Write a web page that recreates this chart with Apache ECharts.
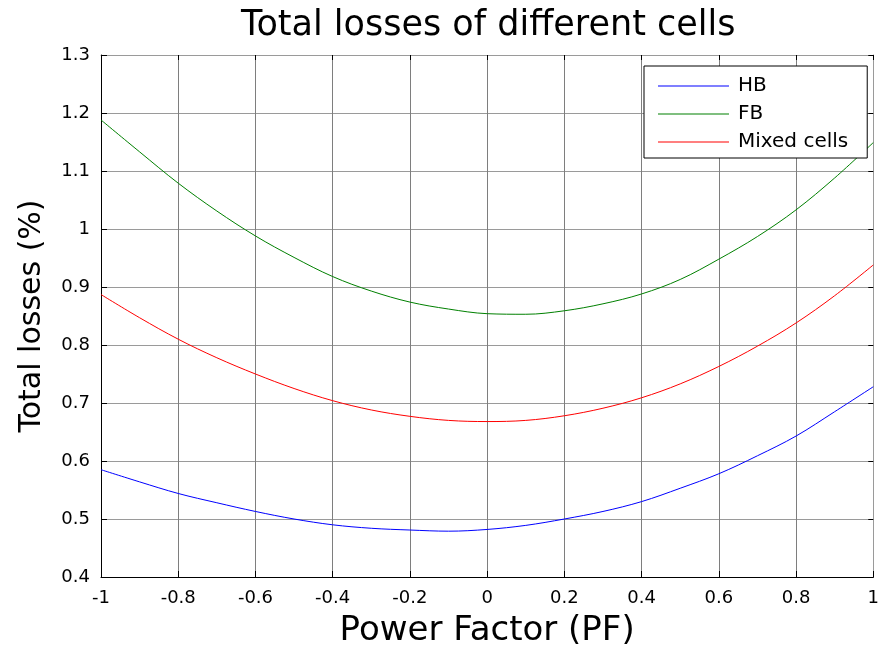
<!DOCTYPE html>
<html>
<head>
<meta charset="utf-8">
<script src="https://cdn.jsdelivr.net/npm/echarts@6/dist/echarts.min.js"></script>
<style>
  html, body { margin: 0; padding: 0; background: #fff; }
  #chart { width: 882px; height: 653px; }
</style>
</head>
<body>
<div id="chart"></div>
<script>
// Power factor sweep (x) and total losses (%) for each cell type
const powerFactor = [-1, -0.9, -0.8, -0.7, -0.6, -0.5, -0.4, -0.3, -0.2, -0.1, 0,
                     0.1, 0.2, 0.3, 0.4, 0.5, 0.6, 0.7, 0.8, 0.9, 1];
const lossHB    = [0.585, 0.564, 0.544, 0.528, 0.513, 0.500, 0.490, 0.484, 0.481, 0.479, 0.482,
                   0.489, 0.500, 0.513, 0.530, 0.553, 0.578, 0.609, 0.643, 0.685, 0.728];
const lossFB    = [1.188, 1.133, 1.079, 1.031, 0.988, 0.951, 0.918, 0.893, 0.874, 0.862, 0.854,
                   0.853, 0.859, 0.871, 0.888, 0.913, 0.948, 0.987, 1.033, 1.088, 1.149];
const lossMixed = [0.887, 0.847, 0.810, 0.778, 0.750, 0.725, 0.704, 0.688, 0.677, 0.670, 0.668,
                   0.670, 0.678, 0.691, 0.709, 0.733, 0.763, 0.798, 0.838, 0.885, 0.938];
const seriesNames = ['HB', 'FB', 'Mixed cells'];

const FONT = 'DejaVu Sans';
const pairs = (ys) => powerFactor.map((x, i) => [x, ys[i]]);
const fmt1 = (v) => String(+v.toFixed(1));

const chart = echarts.init(document.getElementById('chart'), null, { renderer: 'canvas' });

const lineSeries = (name, ys, color) => ({
  name,
  type: 'line',
  data: pairs(ys),
  smooth: 0.35,
  showSymbol: false,
  symbol: 'none',
  lineStyle: { color, width: 1 },
  itemStyle: { color },
  z: 3
});

chart.setOption({
  animation: false,
  backgroundColor: '#fff',
  title: {
    text: 'Total losses of different cells',
    left: 236,
    top: 3,
    textStyle: { fontFamily: FONT, fontSize: 35, fontWeight: 'normal', color: '#000' }
  },
  grid: { left: 101, right: 6, top: 55, bottom: 70, containLabel: false },
  legend: {
    data: seriesNames,
    orient: 'vertical',
    left: 644,
    top: 66,
    icon: 'rect',
    itemWidth: 71,
    itemHeight: 1,
    itemGap: 8,
    padding: [10, 19, 6, 14],
    borderColor: '#000',
    borderWidth: 1,
    backgroundColor: '#fff',
    textStyle: { fontFamily: FONT, fontSize: 20, color: '#000', lineHeight: 20, padding: [0, 0, 0, 4] }
  },
  xAxis: [{
    type: 'value',
    min: -1, max: 1, interval: 0.2,
    name: 'Power Factor (PF)',
    nameLocation: 'middle',
    nameGap: 37,
    nameTextStyle: { fontFamily: FONT, fontSize: 34, color: '#000' },
    axisLine: { show: true, onZero: false, lineStyle: { color: '#000', width: 1 } },
    axisTick: { show: true, inside: true, length: 6, lineStyle: { color: '#000' } },
    axisLabel: { fontFamily: FONT, fontSize: 18, color: '#000', margin: 12, formatter: fmt1 },
    splitLine: { show: true, lineStyle: { color: '#7e7e7e', width: 1 } }
  }, {
    type: 'value',
    position: 'top',
    min: -1, max: 1, interval: 0.2,
    axisLine: { show: true, onZero: false, lineStyle: { color: '#9a9a9a', width: 1 } },
    axisTick: { show: true, inside: true, length: 5, lineStyle: { color: '#000' } },
    axisLabel: { show: false },
    splitLine: { show: false }
  }],
  yAxis: [{
    type: 'value',
    min: 0.4, max: 1.3, interval: 0.1,
    name: 'Total losses (%)',
    nameLocation: 'middle',
    nameGap: 54,
    nameTextStyle: { fontFamily: FONT, fontSize: 30, color: '#000' },
    axisLine: { show: true, onZero: false, lineStyle: { color: '#000', width: 1 } },
    axisTick: { show: true, inside: true, length: 6, lineStyle: { color: '#000' } },
    axisLabel: { fontFamily: FONT, fontSize: 18, color: '#000', margin: 11, formatter: fmt1 },
    splitLine: { show: true, lineStyle: { color: '#9a9a9a', width: 1 } }
  }, {
    type: 'value',
    position: 'right',
    min: 0.4, max: 1.3, interval: 0.1,
    axisLine: { show: true, onZero: false, lineStyle: { color: '#9a9a9a', width: 1 } },
    axisTick: { show: true, inside: true, length: 5, lineStyle: { color: '#000' } },
    axisLabel: { show: false },
    splitLine: { show: false }
  }],
  series: [
    lineSeries(seriesNames[0], lossHB, '#0000ff'),
    lineSeries(seriesNames[1], lossFB, '#008000'),
    lineSeries(seriesNames[2], lossMixed, '#ff0000')
  ]
});
</script>
</body>
</html>
